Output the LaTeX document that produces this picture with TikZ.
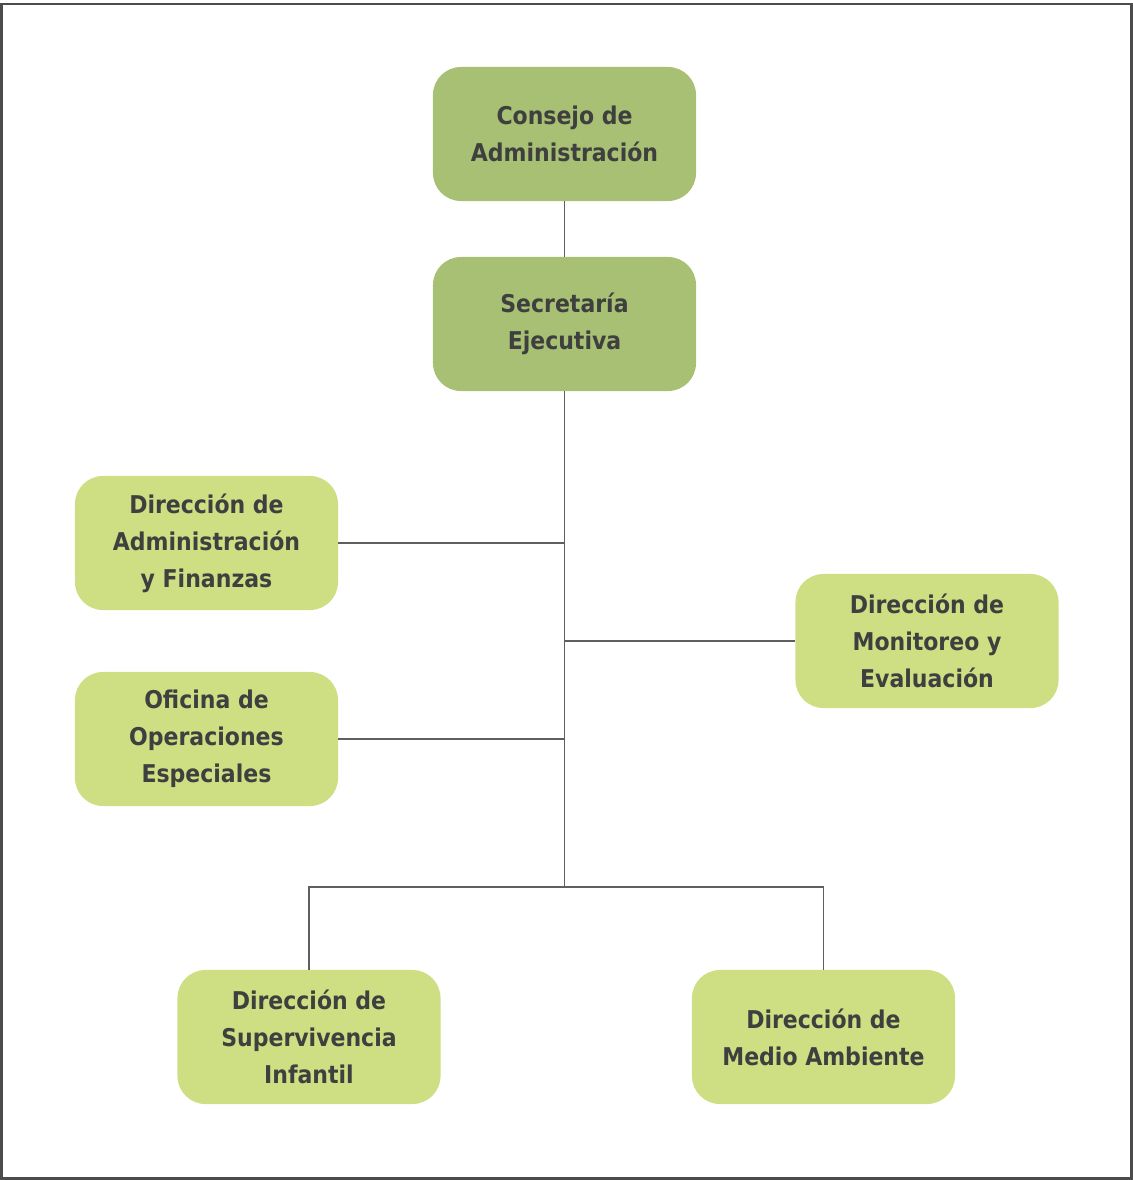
\documentclass[tikz,border=0pt]{standalone}
\usepackage{fontspec}
\setmainfont{DejaVu Sans Condensed}
\usetikzlibrary{positioning}

\definecolor{verdeOsc}{HTML}{A7C073}
\definecolor{verdeCla}{HTML}{CDDF82}
\definecolor{textoGris}{HTML}{3F3F3F}
\definecolor{lineaGris}{HTML}{5F5F5F}

\tikzset{
  caja/.style={rounded corners=0.7cm, minimum width=6.575cm, minimum height=3.35cm,
    align=center, text=textoGris, font=\bfseries\fontsize{17.4}{26.3}\selectfont},
  jefe/.style={caja, fill=verdeOsc},
  area/.style={caja, fill=verdeCla},
  enlace/.style={draw=lineaGris, line width=1.3pt}
}

\begin{document}
\begin{tikzpicture}[x=0.025cm, y=-0.025cm]
\useasboundingbox (0,0) rectangle (1133,1180);
\draw[draw=lineaGris!80!black, line width=1.5pt] (1.5,4) rectangle (1131.5,1178.5);

\node[jefe] (consejo) at (564.5,134) {Consejo de\\Administración};
\node[jefe] (secretaria) at (564.5,324) {Secretaría\\Ejecutiva};
\node[area] (finanzas) at (206.5,543) {Dirección de\\Administración\\y Finanzas};
\node[area] (oficina) at (206.5,739) {Oficina de\\Operaciones\\Especiales};
\node[area] (monitoreo) at (927,641) {Dirección de\\Monitoreo y\\Evaluación};
\node[area] (infantil) at (309,1037) {Dirección de\\Supervivencia\\Infantil};
\node[area] (ambiente) at (823.5,1037) {Dirección de\\Medio Ambiente};

\coordinate (bus) at (564.5,887);

% conexiones
\draw[enlace] (consejo) -- (secretaria);
\draw[enlace] (secretaria) -- (bus);
\draw[enlace] (finanzas.east) -- (finanzas.east -| bus);
\draw[enlace] (oficina.east) -- (oficina.east -| bus);
\draw[enlace] (monitoreo.west) -- (monitoreo.west -| bus);
\draw[enlace] (infantil) -- (infantil |- bus) -- (ambiente |- bus) -- (ambiente);
\end{tikzpicture}
\end{document}
